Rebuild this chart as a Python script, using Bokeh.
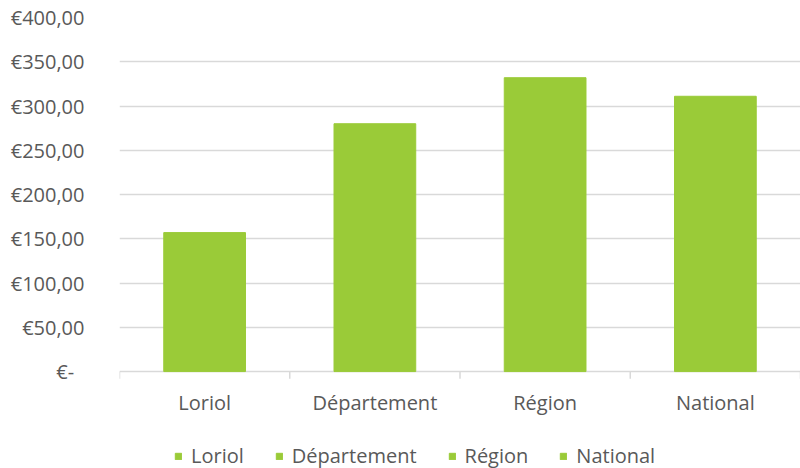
from bokeh.plotting import figure
from bokeh.models import (ColumnDataSource, Range1d, FixedTicker, LinearAxis,
                          CustomJSTickFormatter, Legend, LegendItem)
from bokeh.core.properties import value
from bokeh.embed import file_html
from bokeh.resources import INLINE

categories = ["Loriol", "Département", "Région", "National"]
values = [157, 280, 332, 311]
y_ticks = [0, 50, 100, 150, 200, 250, 300, 350, 400]

GREEN = "#9ACB38"
TEXT = "#595959"
GRID = "#D9D9D9"
FONT = "Open Sans"

xs = [i + 0.5 for i in range(len(categories))]
bounds = list(range(len(categories) + 1))
src = ColumnDataSource(dict(x=xs, top=values, cat=categories))
tick_src = ColumnDataSource(dict(x=bounds))

# frame extends below zero so that category labels and legend sit inside it
p = figure(width=800, height=468, output_backend="svg", toolbar_location=None,
           x_range=Range1d(0, len(categories)), y_range=Range1d(-109.5, 400),
           x_axis_location=None, y_axis_location=None,
           min_border_left=119, min_border_right=0, min_border_top=17,
           min_border_bottom=0)
p.outline_line_color = None
p.background_fill_color = "white"

r = p.vbar(x="x", top="top", width=0.48, bottom=0, source=src,
           fill_color=GREEN, line_color=GREEN)

# y axis
yaxis = LinearAxis(ticker=FixedTicker(ticks=y_ticks))
yaxis.formatter = CustomJSTickFormatter(code="""
    if (tick == 0) { return "€-\u00a0\u00a0"; }
    return "€" + tick.toFixed(2).replace(".", ",");
""")
yaxis.axis_line_color = None
yaxis.major_tick_line_color = None
yaxis.minor_tick_line_color = None
yaxis.major_label_standoff = 29
yaxis.major_label_text_font = FONT
yaxis.major_label_text_font_size = "20px"
yaxis.major_label_text_color = TEXT
p.add_layout(yaxis, "left")

# horizontal gridlines (the one at zero acts as the category axis line)
p.ygrid.grid_line_color = GRID
p.ygrid.grid_line_width = 1.4
p.ygrid.ticker = FixedTicker(ticks=y_ticks)
p.xgrid.grid_line_color = None

# short tick marks at category boundaries, below the zero line
p.segment(x0="x", y0=0, x1="x", y1=-8, source=tick_src,
          line_color=GRID, line_width=1.5)

# category labels
p.text(x="x", y=0, text="cat", source=src, y_offset=31,
       text_align="center", text_baseline="middle",
       text_font=value(FONT), text_font_size="20px", text_color=TEXT)

# legend: one entry per category
items = [LegendItem(label=c, renderers=[r], index=i) for i, c in enumerate(categories)]
legend = Legend(items=items, orientation="horizontal", location=(55, -1),
                glyph_width=8, glyph_height=8, label_standoff=9, spacing=31,
                padding=0, margin=0, border_line_color=None,
                background_fill_alpha=0,
                label_text_font=FONT, label_text_font_size="20px",
                label_text_color=TEXT)
p.add_layout(legend, "center")

open("out.html", "w").write(file_html(p, INLINE))
